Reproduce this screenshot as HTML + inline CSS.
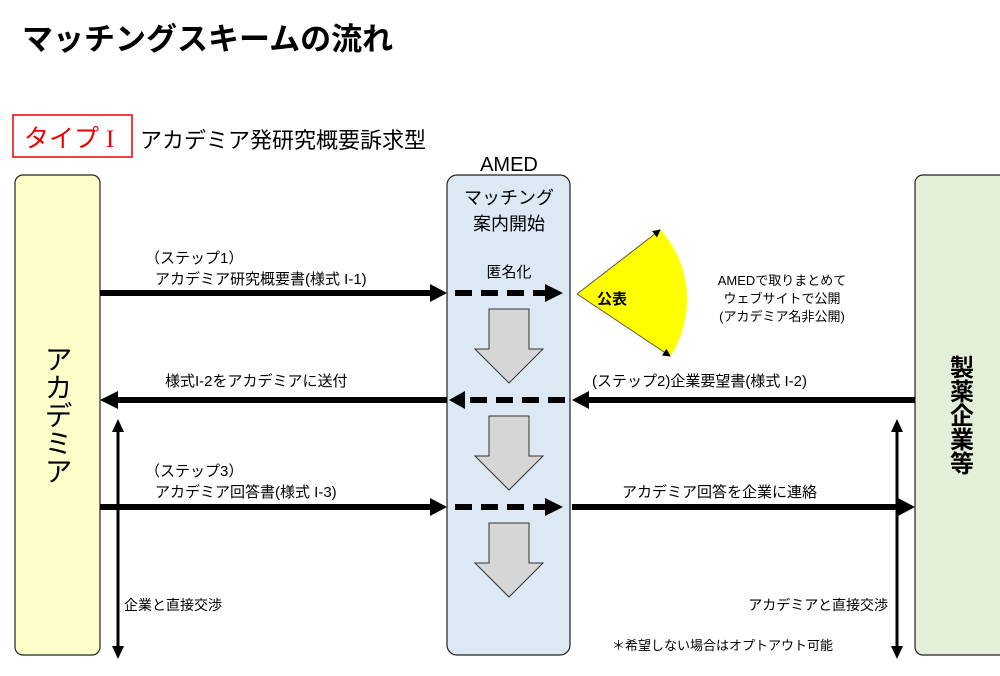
<!DOCTYPE html>
<html><head><meta charset="utf-8"><style>
body{margin:0;background:#fff;}
svg text{font-family:"Liberation Sans","Noto Sans CJK JP",sans-serif;}
</style></head><body>
<svg width="1000" height="671" viewBox="0 0 1000 671" xmlns="http://www.w3.org/2000/svg">
<defs>
<marker id="sm" markerWidth="8" markerHeight="8" refX="7" refY="4" orient="auto" markerUnits="userSpaceOnUse"><path d="M0,0 L8,4 L0,8 z" fill="#000"/></marker>
</defs>
<text x="22" y="50" font-size="31" font-weight="bold">マッチングスキームの流れ</text>
<rect x="13" y="115" width="119" height="42" fill="#fff" stroke="#e00" stroke-width="1.5"/>
<text x="24" y="147" font-size="25" fill="#e00">タイプ <tspan font-family="Liberation Serif,serif">I</tspan></text>
<text x="140" y="148" font-size="22">アカデミア発研究概要訴求型</text>
<rect x="15" y="175" width="85" height="480" rx="8" fill="#fefecb" stroke="#222" stroke-width="1.2"/>
<rect x="447" y="175" width="123" height="480" rx="10" fill="#dde8f5" stroke="#222" stroke-width="1.2"/>
<rect x="915" y="175" width="100" height="480" rx="8" fill="#e3efd9" stroke="#222" stroke-width="1.2"/>
<text x="509" y="171" font-size="20" text-anchor="middle">AMED</text>
<text x="509" y="204" font-size="18" text-anchor="middle">マッチング</text>
<text x="509" y="230" font-size="18" text-anchor="middle">案内開始</text>
<text x="509" y="277" font-size="15" text-anchor="middle">匿名化</text>
<text x="57" y="415" font-size="28" text-anchor="middle" writing-mode="tb">アカデミア</text>
<text x="959" y="355" font-size="24" font-weight="bold" text-anchor="start" writing-mode="tb">製薬企業等</text>
<g fill="#d6d6d6" stroke="#333" stroke-width="1">
<path d="M489,309 h40 v40 h14 l-34,34 l-34,-34 h14 z"/>
<path d="M489,416 h40 v40 h14 l-34,34 l-34,-34 h14 z"/>
<path d="M489,523 h40 v40 h14 l-34,34 l-34,-34 h14 z"/>
</g>
<text x="145" y="263" font-size="15">（ステップ1）</text>
<text x="155" y="284" font-size="15">アカデミア研究概要書(様式 I-1)</text>
<line x1="100" y1="293" x2="434" y2="293" stroke="#000" stroke-width="6"/>
<path d="M430,284 L447,293 L430,302 z"/>
<line x1="455" y1="293" x2="545" y2="293" stroke="#000" stroke-width="6" stroke-dasharray="17,9"/>
<path d="M545,284 L563,293 L545,302 z"/>
<path d="M577,294 L660,229 A105,105 0 0 1 670,357 Z" fill="#ffff00"/>
<line x1="577" y1="294" x2="660" y2="230" stroke="#555" stroke-width="1" marker-end="url(#sm)"/>
<line x1="577" y1="294" x2="670" y2="356" stroke="#555" stroke-width="1" marker-end="url(#sm)"/>
<text x="597" y="304" font-size="15" font-weight="bold">公表</text>
<text x="782" y="285" font-size="13" text-anchor="middle">AMEDで取りまとめて</text>
<text x="782" y="303" font-size="13" text-anchor="middle">ウェブサイトで公開</text>
<text x="782" y="321" font-size="13" text-anchor="middle">(アカデミア名非公開)</text>
<text x="165" y="386" font-size="15">様式I-2をアカデミアに送付</text>
<text x="592" y="386" font-size="15">(ステップ2)企業要望書(様式 I-2)</text>
<line x1="915" y1="400" x2="586" y2="400" stroke="#000" stroke-width="6"/>
<path d="M589,391 L572,400 L589,409 z"/>
<line x1="565" y1="400" x2="465" y2="400" stroke="#000" stroke-width="6" stroke-dasharray="17,9"/>
<path d="M465,391 L449,400 L465,409 z"/>
<line x1="447" y1="400" x2="115" y2="400" stroke="#000" stroke-width="6"/>
<path d="M118,391 L100,400 L118,409 z"/>
<text x="145" y="476" font-size="15">（ステップ3）</text>
<text x="155" y="497" font-size="15">アカデミア回答書(様式 I-3)</text>
<line x1="100" y1="507" x2="434" y2="507" stroke="#000" stroke-width="6"/>
<path d="M430,498 L447,507 L430,516 z"/>
<line x1="455" y1="507" x2="545" y2="507" stroke="#000" stroke-width="6" stroke-dasharray="17,9"/>
<path d="M545,498 L563,507 L545,516 z"/>
<line x1="572" y1="507" x2="900" y2="507" stroke="#000" stroke-width="6"/>
<path d="M898,498 L915,507 L898,516 z"/>
<text x="622" y="497" font-size="15">アカデミア回答を企業に連絡</text>
<line x1="118" y1="430" x2="118" y2="648" stroke="#000" stroke-width="3"/>
<path d="M112,432 L118,419 L124,432 z"/><path d="M112,646 L118,659 L124,646 z"/>
<line x1="897" y1="430" x2="897" y2="648" stroke="#000" stroke-width="3"/>
<path d="M891,432 L897,419 L903,432 z"/><path d="M891,646 L897,659 L903,646 z"/>
<text x="124" y="610" font-size="14">企業と直接交渉</text>
<text x="888" y="610" font-size="14" text-anchor="end">アカデミアと直接交渉</text>
<text x="612" y="650" font-size="13">＊希望しない場合はオプトアウト可能</text>
</svg>
</body></html>
